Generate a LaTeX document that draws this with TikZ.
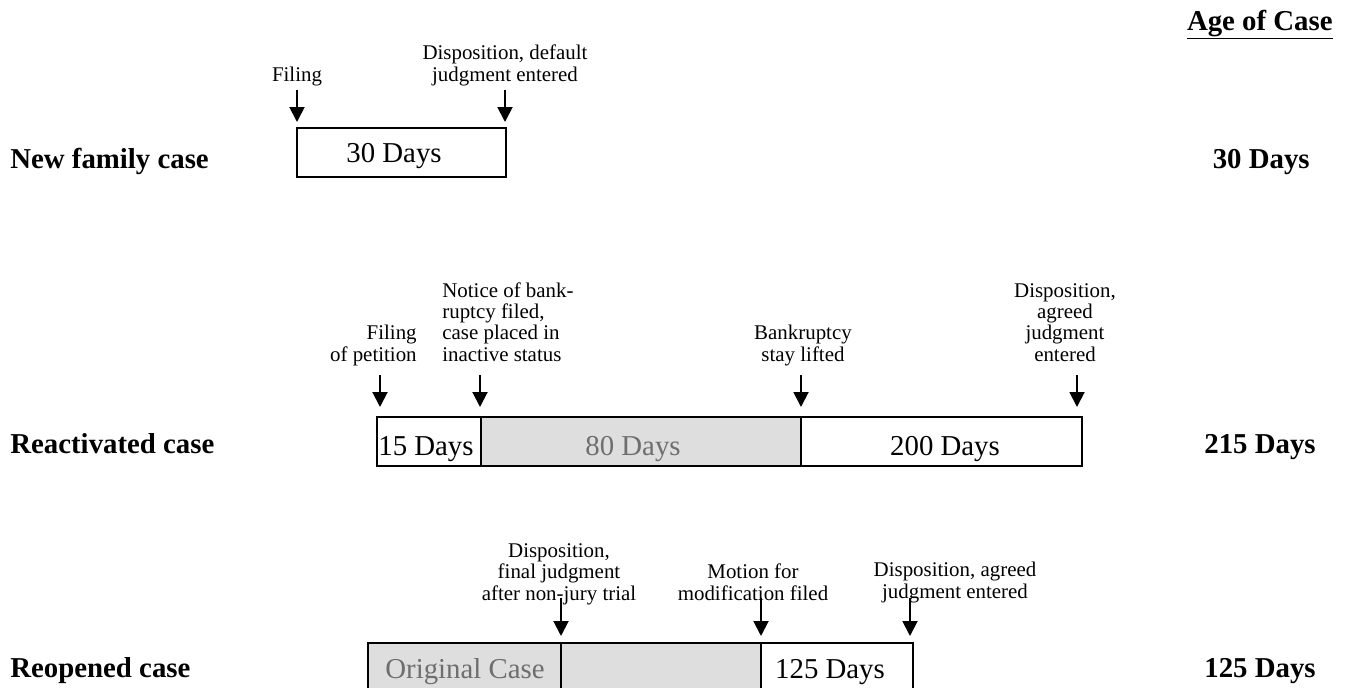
\documentclass[tikz,border=0pt]{standalone}
\usepackage{fontspec}
\setmainfont{Liberation Serif}
\usetikzlibrary{arrows.meta}
\definecolor{stayfill}{HTML}{DEDEDE}
\definecolor{staytext}{HTML}{6E6E6E}

\begin{document}
\begin{tikzpicture}[x=0.02cm, y=-0.02cm,
    event/.style={inner sep=0pt, align=center, font=\fontsize{11.9}{12}\selectfont},
    days/.style={inner sep=0pt, font=\fontsize{16.4}{18}\selectfont},
    rowname/.style={inner sep=0pt, font=\fontsize{16.4}{18}\selectfont\bfseries},
    evarrow/.style={line width=1.1pt, -{Triangle[width=0.3cm, length=0.3cm]}},
    box/.style={line width=1.1pt}]
    \useasboundingbox (0,0) rectangle (1346,687);

    \node[rowname, anchor=base east] (agehead) at (1333,30) {\underline{Age of Case}};

    % new family case
    \node[rowname, anchor=base west] (newcase) at (10,168) {New family case};
    \node[rowname, anchor=base east] (newage) at (1310,168) {30 Days};
    \draw[box] (297,128) rectangle (506,177);
    \node[days, anchor=base] (d30) at (394,162) {30 Days};
    \node[event, anchor=base] (filing) at (297,81) {Filing};
    \node[event, anchor=base] (dispdef) at (505,81) {Disposition, default\\judgment entered};
    \coordinate (filingtop) at (297,90);
    \coordinate (filingtip) at (297,122);
    \coordinate (dispdeftop) at (505,90);
    \coordinate (dispdeftip) at (505,122);
    \draw[evarrow] (filingtop) -- (filingtip);
    \draw[evarrow] (dispdeftop) -- (dispdeftip);

    % reactivated case
    \node[rowname, anchor=base west] (reactcase) at (10,453) {Reactivated case};
    \node[rowname, anchor=base east] (reactage) at (1316,453) {215 Days};
    \draw[box] (377,417) rectangle (481,466);
    \filldraw[box, fill=stayfill] (481,417) rectangle (801,466);
    \draw[box] (801,417) rectangle (1082,466);
    \node[days, anchor=base west] (d15) at (378,455) {15 Days};
    \node[days, anchor=base, text=staytext] (d80) at (633,455) {80 Days};
    \node[days, anchor=base] (d200) at (945,455) {200 Days};
    \node[event, anchor=base east, align=right] (petition) at (417,361) {Filing\\of petition};
    \node[event, anchor=base west, align=left] (notice) at (442,361) {Notice of bank-\\ruptcy filed,\\case placed in\\inactive status};
    \node[event, anchor=base] (lifted) at (803,361) {Bankruptcy\\stay lifted};
    \node[event, anchor=base] (dispagr) at (1065,361) {Disposition,\\agreed\\judgment\\entered};
    \coordinate (petitiontop) at (380,375);
    \coordinate (petitiontip) at (380,407);
    \coordinate (noticetop) at (480,375);
    \coordinate (noticetip) at (480,407);
    \coordinate (liftedtop) at (801,375);
    \coordinate (liftedtip) at (801,407);
    \coordinate (dispagrtop) at (1077,375);
    \coordinate (dispagrtip) at (1077,407);
    \draw[evarrow] (petitiontop) -- (petitiontip);
    \draw[evarrow] (noticetop) -- (noticetip);
    \draw[evarrow] (liftedtop) -- (liftedtip);
    \draw[evarrow] (dispagrtop) -- (dispagrtip);

    % reopened case
    \node[rowname, anchor=base west] (reopcase) at (10,677) {Reopened case};
    \node[rowname, anchor=base east] (reopage) at (1316,677) {125 Days};
    \filldraw[box, fill=stayfill] (368,643) rectangle (561,694);
    \filldraw[box, fill=stayfill] (561,643) rectangle (761,694);
    \draw[box] (761,643) rectangle (913,694);
    \node[days, anchor=base, text=staytext] (orig) at (465,678) {Original Case};
    \node[days, anchor=base] (d125) at (830,678) {125 Days};
    \node[event, anchor=base] (dispfin) at (559,600) {Disposition,\\final judgment\\after non-jury trial};
    \node[event, anchor=base] (motion) at (753,600) {Motion for\\modification filed};
    \node[event, anchor=base] (dispend) at (955,598) {Disposition, agreed\\judgment entered};
    \coordinate (dispfintop) at (561,598);
    \coordinate (dispfintip) at (561,636);
    \coordinate (motiontop) at (761,598);
    \coordinate (motiontip) at (761,636);
    \coordinate (dispendtop) at (910,598);
    \coordinate (dispendtip) at (910,636);
    \draw[evarrow] (dispfintop) -- (dispfintip);
    \draw[evarrow] (motiontop) -- (motiontip);
    \draw[evarrow] (dispendtop) -- (dispendtip);
\end{tikzpicture}
\end{document}
